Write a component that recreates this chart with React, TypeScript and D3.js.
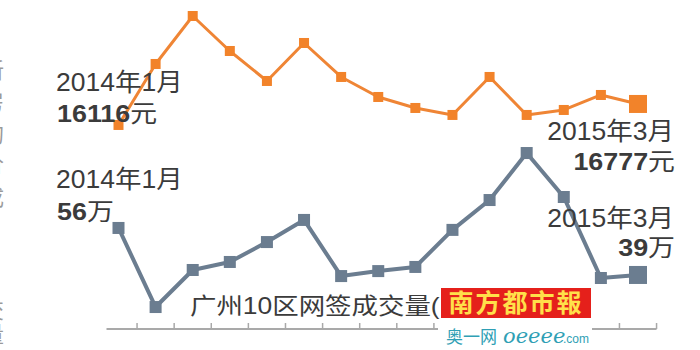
import React from "react";
import * as d3 from "d3";

const months = [
  "2014-01", "2014-02", "2014-03", "2014-04", "2014-05", "2014-06", "2014-07", "2014-08",
  "2014-09", "2014-10", "2014-11", "2014-12", "2015-01", "2015-02", "2015-03",
];
// 广州10区新房均价 (元/平方米)
const priceValues = [16116, 18036, 19547, 18445, 17501, 18697, 17627, 16997, 16651, 16431, 17627, 16431, 16588, 17060, 16777];
// 广州10区网签成交量 (万平方米)
const volumeValues = [56, 27.4, 40.8, 43.7, 50.9, 58.9, 38.6, 40.4, 41.9, 55.3, 66.1, 83.1, 67.2, 37.9, 39];

const startDateLabel = "2014年1月";
const endDateLabel = "2015年3月";
const priceStartLabel = "16116";
const priceEndLabel = "16777";
const priceUnit = "元";
const volumeStartLabel = "56";
const volumeEndLabel = "39";
const volumeUnit = "万";
const volumeTitle = "广州10区网签成交量(";
const leftEdgeChars = ["新", "房", "均", "价", "成", "交", "量"];
const logoText = "南方都市報";

const W = 700;
const H = 350;
const FONT = "'Liberation Sans', 'Noto Sans CJK SC', sans-serif";
const ORANGE = "#ef8535";
const ORANGE_MARK = "#f2832a";
const GRAY = "#6b7d90";
const TEXT = "#3b3b3b";

function Label({ x, y, anchor = "start", size = 25, sx = 1.06, children, fill = TEXT }: any) {
  return (
    <text
      transform={`translate(${x},${y}) scale(${sx},1)`}
      textAnchor={anchor}
      fontSize={size}
      fill={fill}
      fontFamily={FONT}
    >
      {children}
    </text>
  );
}

export default function App() {
  const x = d3.scalePoint<string>().domain(months).range([118.5, 638]);
  const yPrice = d3.scaleLinear().domain([15000, 20000]).range([160.4, 1.6]);
  const yVol = d3.scaleLinear().domain([0, 100]).range([382.8, 106.3]);

  const priceLine = d3
    .line<number>()
    .x((_, i) => x(months[i])!)
    .y((d) => yPrice(d));
  const volLine = d3
    .line<number>()
    .x((_, i) => x(months[i])!)
    .y((d) => yVol(d));

  const step = x.step();
  const tickXs = months.map((m) => x(m)! + step / 2);
  const axisY = 329;
  const axisX0 = x(months[0])! - 12;
  const axisX1 = x(months[months.length - 1])! + step / 2;

  const last = months.length - 1;

  return (
    <svg
      width={W}
      height={H}
      style={{ position: "absolute", left: 0, top: 0, background: "#fff" }}
    >
      <rect width={W} height={H} fill="#fff" />

      {/* cut-off left axis characters (only their right edges show) */}
      {leftEdgeChars.map((c, i) => (
        <text
          key={i}
          x={-18}
          y={[78, 110, 142, 172, 205, 318, 342][i]}
          fontSize={22}
          fill="#9a9a9a"
          fontFamily={FONT}
        >
          {c}
        </text>
      ))}

      {/* axis */}
      <line x1={axisX0} x2={axisX1} y1={axisY} y2={axisY} stroke="#a9a9a9" strokeWidth={2} />
      {tickXs.map((tx, i) => (
        <line key={i} x1={tx} x2={tx} y1={axisY} y2={axisY - 6} stroke="#a9a9a9" strokeWidth={1.5} />
      ))}

      {/* price line */}
      <path d={priceLine(priceValues)!} fill="none" stroke={ORANGE} strokeWidth={3} strokeLinejoin="round" />
      {priceValues.map((v, i) => {
        const s = i === last ? 18 : 10;
        return (
          <rect
            key={i}
            x={x(months[i])! - s / 2}
            y={yPrice(v) - s / 2}
            width={s}
            height={s}
            fill={ORANGE_MARK}
          />
        );
      })}

      {/* volume line */}
      <path d={volLine(volumeValues)!} fill="none" stroke={GRAY} strokeWidth={4} strokeLinejoin="round" />
      {volumeValues.map((v, i) => {
        const s = i === last ? 18 : 12;
        return (
          <rect
            key={i}
            x={x(months[i])! - s / 2}
            y={yVol(v) - s / 2}
            width={s}
            height={s}
            fill={GRAY}
          />
        );
      })}

      {/* labels */}
      <Label x={56} y={91}>{startDateLabel}</Label>
      <Label x={57} y={122} size={24} sx={1.12}>
        <tspan fontWeight="bold">{priceStartLabel}</tspan>
        <tspan>{priceUnit}</tspan>
      </Label>
      <Label x={56} y={188}>{startDateLabel}</Label>
      <Label x={57} y={220} size={24} sx={1.12}>
        <tspan fontWeight="bold">{volumeStartLabel}</tspan>
        <tspan>{volumeUnit}</tspan>
      </Label>

      <Label x={674} y={140} anchor="end">{endDateLabel}</Label>
      <Label x={675} y={170} anchor="end" size={24} sx={1.12}>
        <tspan fontWeight="bold">{priceEndLabel}</tspan>
        <tspan>{priceUnit}</tspan>
      </Label>
      <Label x={674} y={227} anchor="end">{endDateLabel}</Label>
      <Label x={675} y={256} anchor="end" size={24} sx={1.12}>
        <tspan fontWeight="bold">{volumeEndLabel}</tspan>
        <tspan>{volumeUnit}</tspan>
      </Label>

      <Label x={190} y={314} size={23} sx={1.15}>{volumeTitle}</Label>

      {/* watermark logo */}
      <rect x={438} y={319} width={154} height={31} fill="#fff" />
      <rect x={441} y={288} width={150} height={30} fill="#e5201b" />
      <text
        x={516}
        y={312}
        textAnchor="middle"
        fontSize={25}
        fontWeight="bold"
        fill="#ffe04a"
        fontFamily="'Noto Sans CJK SC', sans-serif"
        letterSpacing={2}
      >
        {logoText}
      </text>
      <text x={446} y={343} fontSize={17} fill="#2f9fb5" fontFamily="'Noto Sans CJK SC', sans-serif">
        奥一网
      </text>
      <text x={503} y={343} fontSize={21} fontStyle="italic" fill="#2f9fb5" fontFamily="'DejaVu Serif', serif">
        oeeee
      </text>
      <text x={563} y={343} fontSize={12} fill="#2f9fb5" fontFamily={FONT}>
        .com
      </text>
    </svg>
  );
}
